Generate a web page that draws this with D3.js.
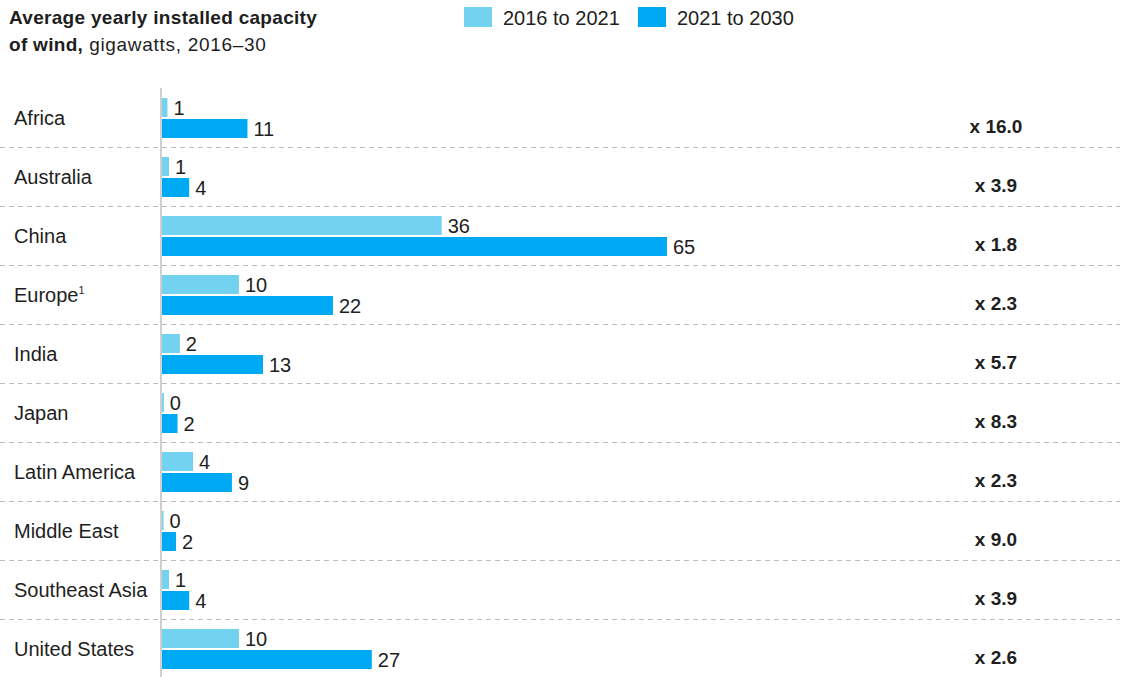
<!DOCTYPE html>
<html>
<head>
<meta charset="utf-8">
<script src="https://cdn.jsdelivr.net/npm/d3@7"></script>
<style>
  body { margin: 0; background: #fff; }
  text { font-family: "Liberation Sans", Arial, sans-serif; fill: #1e1e1e; }
</style>
</head>
<body>
<div id="chart"></div>
<script>
// donnees
var regions = ["Africa", "Australia", "China", "Europe", "India", "Japan", "Latin America", "Middle East", "Southeast Asia", "United States"];
var past = [0.7, 0.9, 36, 9.9, 2.3, 0.24, 4, 0.2, 0.9, 9.9];      // 2016 to 2021
var future = [11, 3.5, 65, 22, 13, 2, 9, 1.8, 3.5, 27];          // 2021 to 2030
var growth = ["x 16.0", "x 3.9", "x 1.8", "x 2.3", "x 5.7", "x 8.3", "x 2.3", "x 9.0", "x 3.9", "x 2.6"];
var seriesNames = ["2016 to 2021", "2021 to 2030"];
var colors = ["#74d2f1", "#00a9f4"];

var width = 1135, height = 677;
var top0 = 88, rowH = 59;

var svg = d3.select("#chart").append("svg")
    .attr("width", width)
    .attr("height", height);

var x = d3.scaleLinear().domain([0, 65]).range([162, 667]);
var y = d3.scaleBand().domain(regions).range([top0, top0 + rowH * regions.length]);

// titre
svg.append("text").attr("x", 9).attr("y", 24).style("font-size", "19px").style("font-weight", "bold")
    .style("letter-spacing", "0.3px")
    .text("Average yearly installed capacity");
var t2 = svg.append("text").attr("x", 9).attr("y", 51).style("font-size", "19px");
t2.append("tspan").style("font-weight", "bold").style("letter-spacing", "0.3px").text("of wind,");
t2.append("tspan").style("letter-spacing", "0.7px").text(" gigawatts, 2016\u201330");

// legende
var legX = [464, 638];
seriesNames.forEach(function(name, i) {
    svg.append("rect").attr("x", legX[i]).attr("y", 7).attr("width", 28).attr("height", 20).attr("fill", colors[i]);
    svg.append("text").attr("x", legX[i] + 39).attr("y", 25).style("font-size", "20px").text(name);
});

// lignes pointillees entre les lignes
svg.selectAll(".sep").data(regions.slice(1)).enter().append("line")
    .attr("class", "sep")
    .attr("x1", 0).attr("x2", 1120)
    .attr("y1", function(d) { return y(d) + 0.5; })
    .attr("y2", function(d) { return y(d) + 0.5; })
    .attr("stroke", "#bdbdbd")
    .attr("stroke-dasharray", "5,4");

// axe vertical
svg.append("line")
    .attr("x1", 161).attr("x2", 161)
    .attr("y1", top0).attr("y2", height)
    .attr("stroke", "#cfcfcf").attr("stroke-width", 2);

var rows = svg.selectAll(".row").data(regions).enter().append("g")
    .attr("class", "row")
    .attr("transform", function(d) { return "translate(0," + y(d) + ")"; });

rows.append("text")
    .attr("x", 14).attr("y", 37)
    .style("font-size", "20px")
    .text(function(d) { return d; })
    .filter(function(d) { return d === "Europe"; })
    .append("tspan").attr("dy", -8).style("font-size", "11px").text("1");

var fmt = d3.format(".0f");
[past, future].forEach(function(vals, s) {
    var by = s === 0 ? 10 : 31;
    rows.append("rect")
        .attr("x", x(0))
        .attr("y", by)
        .attr("width", function(d, i) { return x(vals[i]) - x(0); })
        .attr("height", 19)
        .attr("fill", colors[s]);
    rows.append("text")
        .attr("x", function(d, i) { return x(vals[i]) + 6; })
        .attr("y", by + 17)
        .style("font-size", "20px")
        .text(function(d, i) { return fmt(vals[i]); });
});

rows.append("text")
    .attr("x", 996).attr("y", 45)
    .attr("text-anchor", "middle")
    .style("font-size", "19px").style("font-weight", "bold")
    .text(function(d, i) { return growth[i]; });
</script>
</body>
</html>
